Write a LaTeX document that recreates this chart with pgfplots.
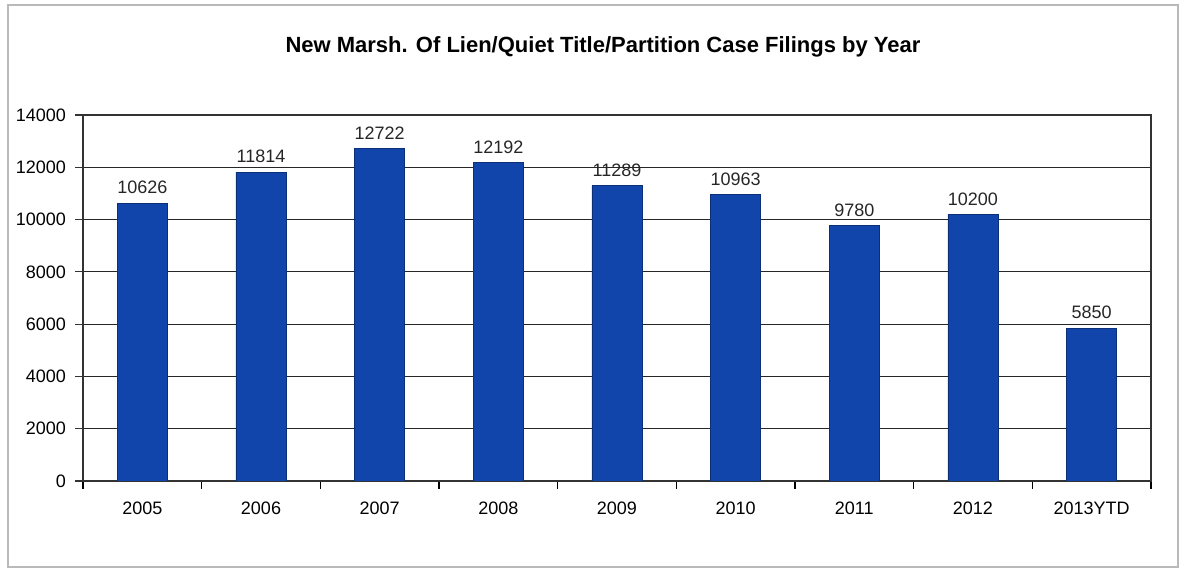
\documentclass[border=0pt]{standalone}
\usepackage{pgfplots}
\pgfplotsset{compat=1.18}
\usepackage{fontspec}
\setmainfont{Liberation Sans}
\definecolor{barblue}{HTML}{1145AB}
\begin{document}
\begin{tikzpicture}
\useasboundingbox (-41.5pt,-45.5pt) rectangle (552.5pt,240.5pt);
\draw[gray!55, line width=0.8pt] (-37.5pt,-43pt) rectangle (547.5pt,238pt);
\node[font=\bfseries\fontsize{11}{13}\selectfont] at (260pt,217pt) {New Marsh. Of Lien/Quiet Title/Partition Case Filings by Year};
\begin{axis}[
  at={(0pt,0pt)}, anchor=south west,
  scale only axis, width=534pt, height=183pt,
  xmin=-0.5, xmax=8.5, ymin=0, ymax=14000,
  xtick={0,...,8},
  xticklabels={2005,2006,2007,2008,2009,2010,2011,2012,2013YTD},
  major x tick style={draw=none},
  minor xtick={-0.5,0.5,...,8.5},
  minor x tick style={black},
  ytick={0,2000,...,14000},
  scaled y ticks=false,
  tick align=outside,
  major tick length=4pt, minor tick length=4pt,
  ymajorgrids, grid style={black!85, line width=0.6pt},
  axis line style={black!80, line width=0.6pt},
  tick style={black!80, line width=0.6pt},
  xtick pos=bottom, ytick pos=left,
  ticklabel style={font=\fontsize{9}{10}\selectfont},
  /pgf/number format/assume math mode=true,
  /pgf/number format/1000 sep={},
  xticklabel style={yshift=-3pt},
  yticklabel style={xshift=-1pt},
  ybar, bar width=25pt,
  nodes near coords,
  every node near coord/.append style={font=\fontsize{9}{10}\selectfont, text=black!85, /pgf/number format/1000 sep={}, /pgf/number format/assume math mode=true, yshift=1pt},
]
\addplot[fill=barblue, draw=barblue!70!black, line width=0.4pt] coordinates {
(0,10626) (1,11814) (2,12722) (3,12192) (4,11289) (5,10963) (6,9780) (7,10200) (8,5850)
};
\end{axis}
\end{tikzpicture}
\end{document}
